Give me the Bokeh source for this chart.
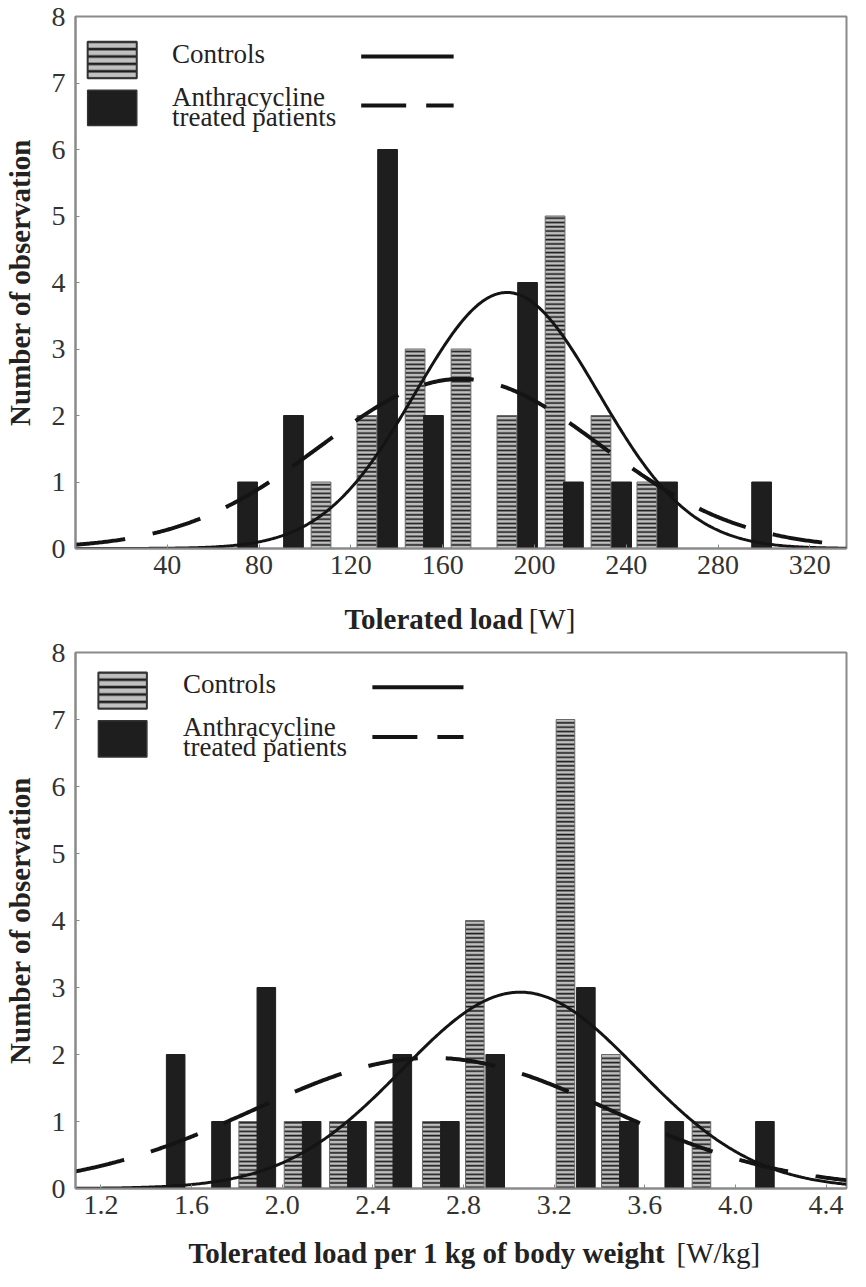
import numpy as np
from bokeh.plotting import figure
from bokeh.layouts import column
from bokeh.models import FixedTicker, NumeralTickFormatter, Range1d
from bokeh.core.properties import value
from bokeh.embed import file_html
from bokeh.resources import INLINE

# ---------------- data: top panel (tolerated load, W) ----------------
load_ctrl_x = [107, 127, 148, 168, 188, 209, 229, 249]
load_ctrl_n = [1, 2, 3, 3, 2, 5, 2, 1]
load_anth_x = [75, 95, 136, 156, 197, 217, 238, 258, 299]
load_anth_n = [1, 2, 6, 2, 4, 1, 1, 1, 1]
load_ticks = [40, 80, 120, 160, 200, 240, 280, 320]
# fitted normal curves: (peak height, mean, SD)
load_ctrl_fit = (3.85, 188, 40)
load_anth_fit = (2.55, 168, 61)

# ---------------- data: bottom panel (W/kg) ----------------
wkg_ctrl_x = [1.85, 2.05, 2.25, 2.45, 2.66, 2.85, 3.25, 3.45, 3.85]
wkg_ctrl_n = [1, 1, 1, 1, 1, 4, 7, 2, 1]
wkg_anth_x = [1.53, 1.73, 1.93, 2.13, 2.33, 2.53, 2.74, 2.94, 3.34, 3.53, 3.73, 4.13]
wkg_anth_n = [2, 1, 3, 1, 1, 2, 1, 2, 3, 1, 1, 1]
wkg_ticks = [1.2, 1.6, 2.0, 2.4, 2.8, 3.2, 3.6, 4.0, 4.4]
wkg_ctrl_fit = (2.93, 3.05, 0.52)
wkg_anth_fit = (1.95, 2.66, 0.78)

y_ticks = [0, 1, 2, 3, 4, 5, 6, 7, 8]
legend_labels = ["Controls", "Anthracycline", "treated patients"]

FONT = "Liberation Serif"
INK = "#1e1e1e"
GREY = "#8a8a8a"
W = 850
BL, BR = 70, 4


def normal_curve(xs, peak, mu, sd):
    return peak * np.exp(-0.5 * ((xs - mu) / sd) ** 2)


def make_panel(H, top_b, bot_b, xr, bar_w, ctrl_x, ctrl_n, anth_x, anth_n,
               ctrl_fit, anth_fit, ticks, fmt, leg):
    p = figure(width=W, height=H, x_range=Range1d(*xr), y_range=Range1d(0, 8),
               output_backend="svg", toolbar_location=None,
               min_border_left=BL, min_border_right=BR,
               min_border_top=top_b, min_border_bottom=bot_b)
    p.grid.visible = False
    p.outline_line_color = GREY
    p.outline_line_width = 2

    p.vbar(x=ctrl_x, top=ctrl_n, width=bar_w, fill_color="#c0c0c0",
           line_color="#6a6a6a", line_width=1,
           hatch_pattern="horizontal_line", hatch_color=INK,
           hatch_scale=4.3, hatch_weight=1.7)
    p.vbar(x=anth_x, top=anth_n, width=bar_w, fill_color=INK, line_color=INK)

    xs = np.linspace(xr[0], xr[1], 500)
    p.line(xs, normal_curve(xs, *ctrl_fit), line_color="#141414", line_width=3)
    p.line(xs, normal_curve(xs, *anth_fit), line_color="#141414",
           line_width=4, line_dash="50 28")

    # legend (drawn inside the frame)
    p.quad(left=[leg["sx0"]], right=[leg["sx1"]], bottom=[leg["c_y0"]], top=[leg["c_y1"]],
           fill_color="#c0c0c0", line_color="#333333", line_width=2,
           hatch_pattern="horizontal_line", hatch_color=INK,
           hatch_scale=7.4, hatch_weight=2.6)
    p.quad(left=[leg["sx0"]], right=[leg["sx1"]], bottom=[leg["a_y0"]], top=[leg["a_y1"]],
           fill_color=INK, line_color="#333333", line_width=1.5)
    p.text(x=[leg["tx"]] * 3, y=leg["ty"], text=legend_labels,
           text_font=value(FONT), text_font_size=value("27px"),
           text_baseline="middle", text_align="left", text_color="#222222")
    p.line([leg["lx0"], leg["lx1"]], [leg["ly_c"]] * 2, line_color="#141414", line_width=4)
    p.line([leg["lx0"], leg["lx1"]], [leg["ly_a"]] * 2, line_color="#141414",
           line_width=4, line_dash="45 20")

    # axes
    p.xaxis.ticker = FixedTicker(ticks=ticks)
    if fmt:
        p.xaxis.formatter = NumeralTickFormatter(format=fmt)
    p.yaxis.ticker = FixedTicker(ticks=y_ticks)
    for ax in (p.xaxis[0], p.yaxis[0]):
        ax.major_label_text_font = FONT
        ax.major_label_text_font_size = "28px"
        ax.major_label_text_color = "#333333"
        ax.axis_line_color = GREY
        ax.axis_line_width = 2
        ax.major_tick_in = 4
        ax.major_tick_out = 0
        ax.major_tick_line_color = GREY
        ax.minor_tick_line_color = None
    p.xaxis.major_label_standoff = 7
    p.yaxis.major_label_standoff = 10
    p.yaxis.axis_label = "Number of observation"
    p.yaxis.axis_label_text_font = FONT
    p.yaxis.axis_label_text_font_style = "bold"
    p.yaxis.axis_label_text_font_size = "29px"
    p.yaxis.axis_label_text_color = "#222222"
    p.yaxis.axis_label_standoff = 13
    return p


def make_xlabel(H, x_range, ypos, x_bold, bold_text, x_unit, unit_text):
    """Strip below a panel carrying the x-axis title (bold quantity + regular unit)."""
    q = figure(width=W, height=H, x_range=x_range, y_range=Range1d(0, 1),
               output_backend="svg", toolbar_location=None,
               x_axis_type=None, y_axis_type=None,
               min_border_left=BL, min_border_right=BR,
               min_border_top=0, min_border_bottom=0)
    q.grid.visible = False
    q.outline_line_color = None
    q.text(x=[x_bold], y=[ypos], text=[bold_text], text_font=value(FONT),
           text_font_style="bold", text_font_size=value("29px"),
           text_color="#222222", text_align="right", text_baseline="middle")
    q.text(x=[x_unit], y=[ypos], text=[unit_text], text_font=value(FONT),
           text_font_style="normal", text_font_size=value("29px"),
           text_color="#222222", text_align="left", text_baseline="middle")
    return q


leg_top = dict(sx0=5.3, sx1=26.7, c_y0=7.07, c_y1=7.62, a_y0=6.36, a_y1=6.89,
               tx=42.1, ty=[7.44, 6.79, 6.49], lx0=124.5, lx1=164.8, ly_c=7.40, ly_a=6.66)
leg_bot = dict(sx0=1.189, sx1=1.403, c_y0=7.16, c_y1=7.70, a_y0=6.44, a_y1=6.98,
               tx=1.562, ty=[7.53, 6.89, 6.59], lx0=2.398, lx1=2.800, ly_c=7.48, ly_a=6.74)

p1 = make_panel(588, 16, 40, (0, 336), 8.6, load_ctrl_x, load_ctrl_n, load_anth_x, load_anth_n,
                load_ctrl_fit, load_anth_fit, load_ticks, None, leg_top)
l1 = make_xlabel(50, p1.x_range, 0.40, 195, "Tolerated load", 197.5, "[W]")
p2 = make_panel(590, 14, 40, (1.088, 4.49), 0.082, wkg_ctrl_x, wkg_ctrl_n, wkg_anth_x, wkg_anth_n,
                wkg_ctrl_fit, wkg_anth_fit, wkg_ticks, "0.0", leg_bot)
l2 = make_xlabel(43, p2.x_range, 0.42, 3.69, "Tolerated load per 1 kg of body weight", 3.74, "[W/kg]")

layout = column(p1, l1, p2, l2, spacing=0)
open("out.html", "w").write(file_html(layout, INLINE))
